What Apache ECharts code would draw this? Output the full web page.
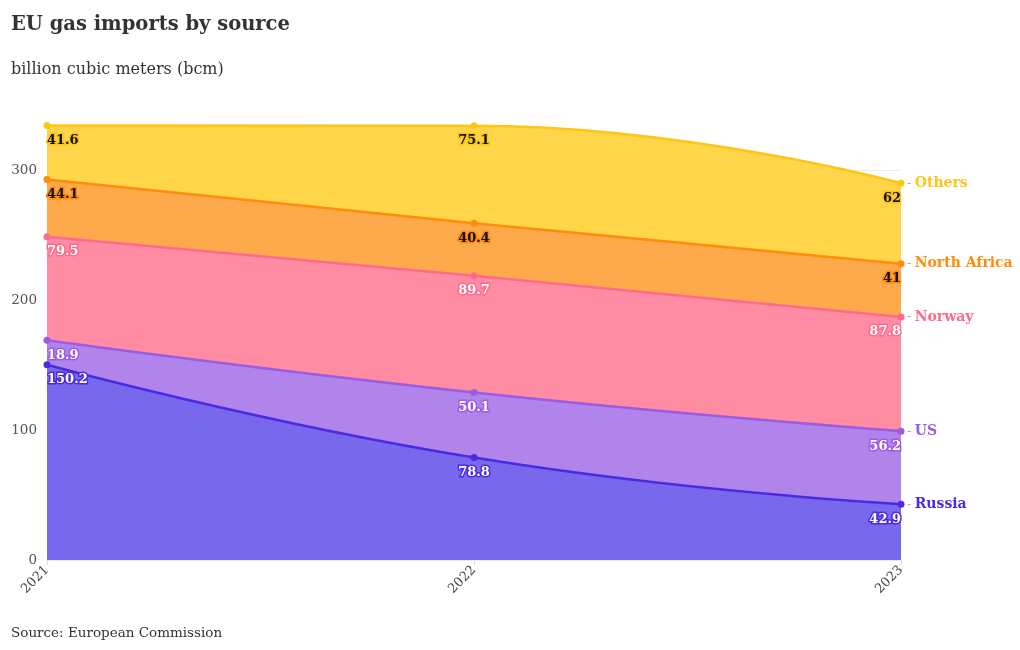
<!DOCTYPE html>
<html>
<head>
<meta charset="utf-8">
<script src="https://cdn.jsdelivr.net/npm/echarts@6/dist/echarts.min.js"></script>
<style>
  body { margin: 0; background: #fff; }
  #chart { width: 1020px; height: 650px; }
</style>
</head>
<body>
<div id="chart"></div>
<script>
// data
const years = ['2021', '2022', '2023']
const seriesNames = ['Russia', 'US', 'Norway', 'North Africa', 'Others']
const russia = [150.2, 78.8, 42.9]
const us = [18.9, 50.1, 56.2]
const norway = [79.5, 89.7, 87.8]
const northAfrica = [44.1, 40.4, 41]
const others = [41.6, 75.1, 62]
const yTicks = [0, 100, 200, 300]

const values = [russia, us, norway, northAfrica, others]
const lineColors = ['#4a2be3', '#9b5be3', '#ff6b8f', '#ff8c0a', '#ffc515']
const fillColors = ['#7868ec', '#b184ec', '#ff8ca3', '#ffa94d', '#ffd54a']
const labelText = ['#fff', '#fff', '#fff', '#111', '#111']

const font = '"DejaVu Serif", "Liberation Serif", serif'

const chart = echarts.init(document.getElementById('chart'))

const series = seriesNames.map((name, i) => ({
  name: name,
  type: 'line',
  stack: 'total',
  smooth: 0.5,
  symbol: 'circle',
  symbolSize: 7,
  lineStyle: { color: lineColors[i], width: 2.5 },
  itemStyle: { color: lineColors[i] },
  areaStyle: { color: fillColors[i], opacity: 1 },
  z: 10 - i,
  data: values[i].map((v, j) => ({
    value: v,
    label: {
      show: true,
      position: 'bottom',
      distance: 5,
      align: j === 0 ? 'left' : (j === values[i].length - 1 ? 'right' : 'center'),
      formatter: String(v),
      color: labelText[i],
      fontFamily: font,
      fontSize: 13,
      fontWeight: 'bold',
      textBorderColor: lineColors[i],
      textBorderWidth: 3
    }
  })),
  endLabel: {
    show: true,
    distance: 6,
    formatter: '{d|-} {n|' + name + '}',
    rich: {
      d: { color: '#aaa', fontSize: 13, fontFamily: font },
      n: { color: lineColors[i], fontSize: 14, fontWeight: 'bold', fontFamily: font }
    }
  }
}))

chart.setOption({
  animation: false,
  title: [
    {
      text: 'EU gas imports by source',
      left: 6, top: 10,
      textStyle: { fontFamily: font, fontSize: 19.5, fontWeight: 'bold', color: '#333' }
    },
    {
      text: 'billion cubic meters (bcm)',
      left: 6, top: 57,
      textStyle: { fontFamily: font, fontSize: 16, fontWeight: 'normal', color: '#333' }
    },
    {
      text: 'Source: European Commission',
      left: 6, top: 621,
      textStyle: { fontFamily: font, fontSize: 13.5, fontWeight: 'normal', color: '#333' }
    }
  ],
  grid: { left: 47, right: 119, top: 118, bottom: 90 },
  xAxis: {
    type: 'category',
    data: years,
    boundaryGap: false,
    axisLine: { show: false },
    axisTick: { show: true, length: 5, lineStyle: { color: '#ddd' } },
    axisLabel: {
      rotate: 45,
      color: '#444',
      fontFamily: font,
      fontSize: 13,
      margin: 8
    }
  },
  yAxis: {
    type: 'value',
    min: 0,
    max: 340,
    interval: 100,
    axisLine: { show: false },
    axisTick: { show: false },
    axisLabel: {
      color: '#555',
      fontFamily: font,
      fontSize: 13.5,
      margin: 10,
      showMaxLabel: false,
      formatter: v => (yTicks.includes(v) ? String(v) : '')
    },
    splitLine: {
      lineStyle: { color: ['#ececec', '#ececec', '#ececec', '#ececec', 'rgba(0,0,0,0)'] }
    }
  },
  series: series
})
</script>
</body>
</html>
